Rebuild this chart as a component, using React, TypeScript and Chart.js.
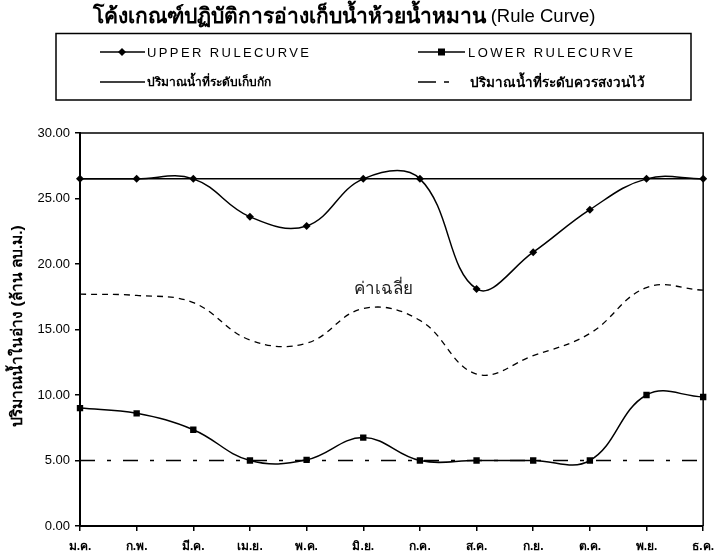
import { useEffect, useRef } from 'react';
import { Chart, registerables } from 'chart.js';

Chart.register(...registerables);

const months = ['ม.ค.', 'ก.พ.', 'มี.ค.', 'เม.ย.', 'พ.ค.', 'มิ.ย.', 'ก.ค.', 'ส.ค.', 'ก.ย.', 'ต.ค.', 'พ.ย.', 'ธ.ค.'];
const upperRule = [26.5, 26.5, 26.5, 23.6, 22.9, 26.5, 26.5, 18.1, 20.9, 24.15, 26.5, 26.5];
const lowerRule = [9.0, 8.6, 7.35, 5.0, 5.05, 6.75, 5.0, 5.0, 5.0, 5.0, 10.0, 9.85];
const storageLevel = [26.5, 26.5, 26.5, 26.5, 26.5, 26.5, 26.5, 26.5, 26.5, 26.5, 26.5, 26.5];
const reserveLevel = [5.0, 5.0, 5.0, 5.0, 5.0, 5.0, 5.0, 5.0, 5.0, 5.0, 5.0, 5.0];
const averageVolume = [17.7, 17.6, 17.05, 14.2, 13.95, 16.6, 15.7, 11.6, 13.0, 14.7, 18.2, 18.0];

const titleBold = 'โค้งเกณฑ์ปฏิบัติการอ่างเก็บน้ำห้วยน้ำหมาน';
const titleNormal = ' (Rule Curve)';
const yTitle = 'ปริมาณน้ำในอ่าง (ล้าน ลบ.ม.)';
const averageLabel = 'ค่าเฉลี่ย';
const labelUpper = 'UPPER RULECURVE';
const labelLower = 'LOWER RULECURVE';
const labelStorage = 'ปริมาณน้ำที่ระดับเก็บกัก';
const labelReserve = 'ปริมาณน้ำที่ระดับควรสงวนไว้';

const FONT = "Tahoma, 'Liberation Sans', 'Noto Sans', 'DejaVu Sans', sans-serif";

const decor = {
  id: 'decor',
  afterDraw(chart: any) {
    const ctx = chart.ctx as CanvasRenderingContext2D;
    const { left, right, top, bottom } = chart.chartArea;
    ctx.save();
    // frame top and right
    ctx.strokeStyle = '#000';
    ctx.lineWidth = 1.5;
    ctx.beginPath();
    ctx.moveTo(left, top);
    ctx.lineTo(right, top);
    ctx.lineTo(right, bottom);
    ctx.stroke();

    // title
    ctx.fillStyle = '#000';
    ctx.textBaseline = 'middle';
    ctx.textAlign = 'left';
    const fb = `bold 21px ${FONT}`;
    const fn = `18.5px ${FONT}`;
    ctx.font = fb;
    const wb = ctx.measureText(titleBold).width;
    ctx.font = fn;
    const wn = ctx.measureText(titleNormal).width;
    const tx = 344 - (wb + wn) / 2;
    ctx.font = fb;
    ctx.fillText(titleBold, tx, 17);
    ctx.font = fn;
    ctx.fillText(titleNormal, tx + wb, 17);

    // legend box
    ctx.lineWidth = 1.5;
    ctx.strokeRect(56, 33.5, 635, 66.5);
    const r1 = 52, r2 = 82;
    ctx.lineWidth = 1.5;
    // upper
    ctx.beginPath(); ctx.moveTo(100, r1); ctx.lineTo(145, r1); ctx.stroke();
    ctx.beginPath();
    ctx.moveTo(122, r1 - 4); ctx.lineTo(126, r1); ctx.lineTo(122, r1 + 4); ctx.lineTo(118, r1); ctx.closePath();
    ctx.fill();
    // lower
    ctx.beginPath(); ctx.moveTo(418, r1); ctx.lineTo(465, r1); ctx.stroke();
    ctx.fillRect(438, r1 - 3.5, 7, 7);
    // storage
    ctx.beginPath(); ctx.moveTo(100, r2); ctx.lineTo(145, r2); ctx.stroke();
    // reserve
    ctx.beginPath(); ctx.moveTo(418, r2); ctx.lineTo(436, r2); ctx.moveTo(444, r2); ctx.lineTo(449, r2); ctx.stroke();

    ctx.font = `13px ${FONT}`;
    (ctx as any).letterSpacing = '2.4px';
    ctx.fillText(labelUpper, 147, r1 + 1);
    ctx.fillText(labelLower, 468, r1 + 1);
    (ctx as any).letterSpacing = '0px';
    ctx.font = `bold 12px ${FONT}`;
    ctx.fillText(labelStorage, 147, r2 + 1);
    ctx.font = `bold 13.5px ${FONT}`;
    ctx.fillText(labelReserve, 470, r2 + 1);

    // y axis title
    ctx.save();
    ctx.translate(18, 326);
    ctx.rotate(-Math.PI / 2);
    ctx.textAlign = 'center';
    ctx.font = `bold 15.5px ${FONT}`;
    ctx.fillText(yTitle, 0, 0);
    ctx.restore();

    // average label
    const xs = chart.scales.x;
    const ys = chart.scales.y;
    const ax = xs.getPixelForValue(5.35);
    const ay = ys.getPixelForValue(18.05);
    ctx.font = `17px ${FONT}`;
    ctx.fillStyle = '#222';
    ctx.textAlign = 'center';
    ctx.fillText(averageLabel, ax, ay);
    ctx.restore();
  },
};

export default function App() {
  const ref = useRef<HTMLCanvasElement>(null);
  useEffect(() => {
    if (!ref.current) return;
    const chart = new Chart(ref.current, {
      type: 'line',
      data: {
        labels: months,
        datasets: [
          {
            label: labelUpper,
            data: upperRule,
            borderColor: '#000',
            backgroundColor: '#000',
            borderWidth: 1.5,
            pointStyle: 'rectRot',
            pointRadius: 4,
            pointBorderWidth: 0,
            tension: 0.4,
          },
          {
            label: labelLower,
            data: lowerRule,
            borderColor: '#000',
            backgroundColor: '#000',
            borderWidth: 1.5,
            pointStyle: 'rect',
            pointRadius: 4.5,
            pointBorderWidth: 0,
            tension: 0.4,
          },
          {
            label: labelStorage,
            data: storageLevel,
            borderColor: '#000',
            borderWidth: 1.5,
            pointRadius: 0,
            tension: 0,
          },
          {
            label: labelReserve,
            data: reserveLevel,
            borderColor: '#000',
            borderWidth: 1.3,
            borderDash: [15, 12, 4, 12],
            pointRadius: 0,
            tension: 0,
          },
          {
            label: averageLabel,
            data: averageVolume,
            borderColor: '#000',
            borderWidth: 1.3,
            borderDash: [6, 5],
            pointRadius: 0,
            tension: 0.4,
          },
        ],
      },
      options: {
        animation: false,
        responsive: false,
        devicePixelRatio: 1,
        layout: { padding: { left: 0, top: 133, right: 10, bottom: 0 } },
        plugins: { legend: { display: false }, title: { display: false }, tooltip: { enabled: false } },
        scales: {
          x: {
            offset: false,
            grid: { display: true, drawOnChartArea: false, drawTicks: true, tickLength: 5, color: '#000', lineWidth: 1.5 },
            border: { display: true, color: '#000', width: 2 },
            ticks: { color: '#000', font: { family: FONT, size: 12, weight: 'bold' }, padding: 8, maxRotation: 0, autoSkip: false },
            afterFit: (s: any) => { s.height = 33; },
          },
          y: {
            min: 0,
            max: 30,
            grid: { display: true, drawOnChartArea: false, drawTicks: true, tickLength: 5, color: '#000', lineWidth: 1.5 },
            border: { display: true, color: '#000', width: 2 },
            ticks: {
              stepSize: 5,
              color: '#000',
              font: { family: "'Liberation Sans', Arial, sans-serif", size: 13 },
              padding: 5,
              callback: (v: any) => Number(v).toFixed(2),
            },
            afterFit: (s: any) => { s.width = 80; },
          },
        },
      },
      plugins: [decor],
    });
    return () => chart.destroy();
  }, []);
  return (
    <div style={{ position: 'fixed', left: 0, top: 0, width: 722, height: 559, background: '#fff' }}>
      <canvas ref={ref} width={722} height={559} style={{ width: 722, height: 559, display: 'block' }} />
    </div>
  );
}
